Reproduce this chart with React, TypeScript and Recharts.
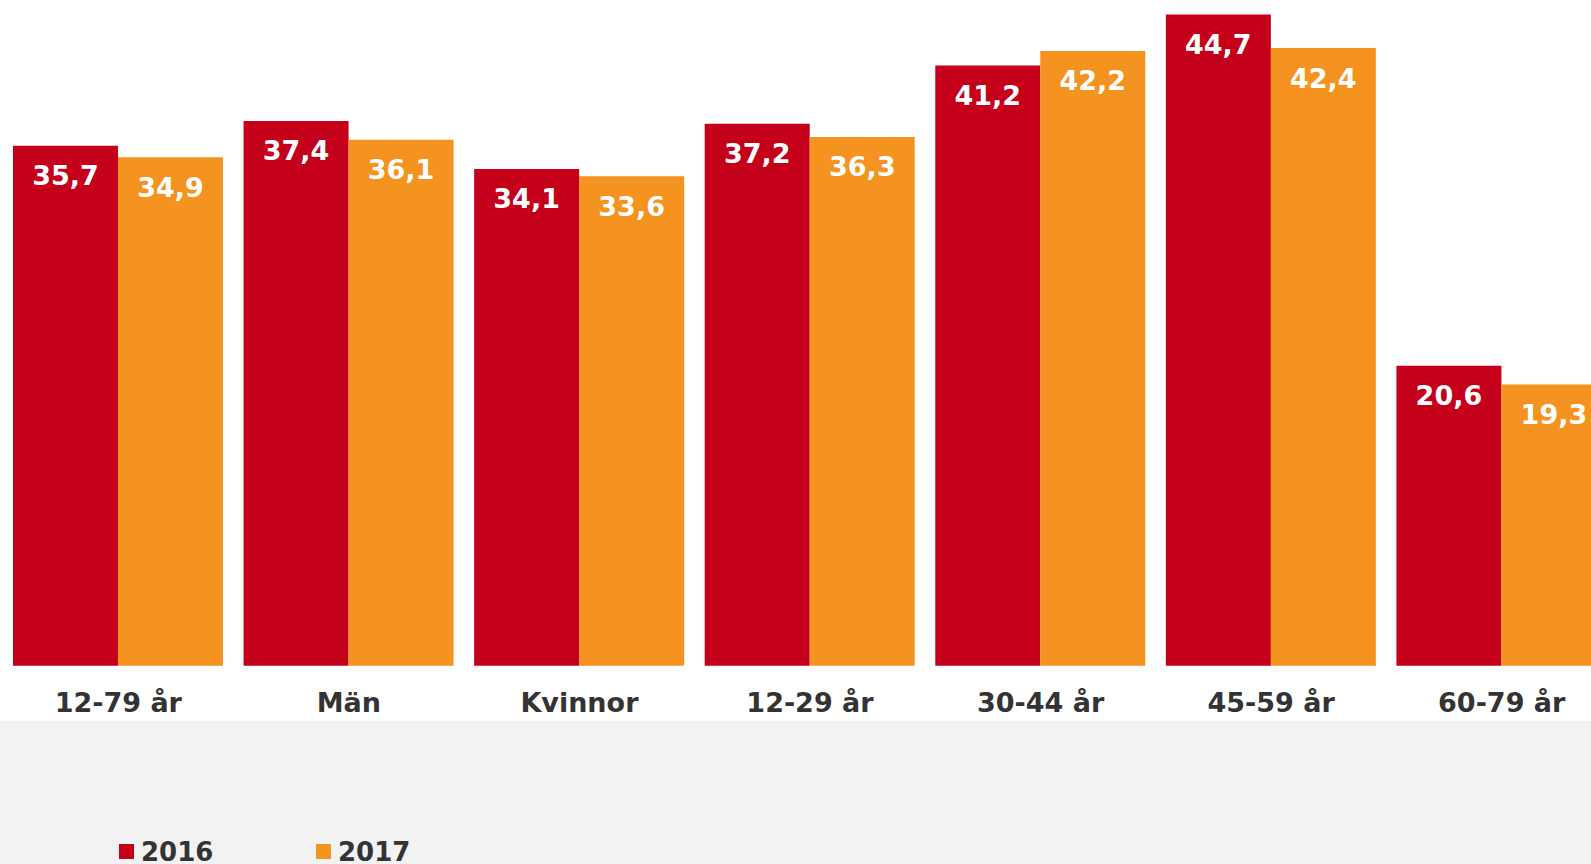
import React from 'react';
import { BarChart, Bar, XAxis, YAxis, LabelList, Legend } from 'recharts';

const categories = ['12-79 år', 'Män', 'Kvinnor', '12-29 år', '30-44 år', '45-59 år', '60-79 år'];
const values2016 = [35.7, 37.4, 34.1, 37.2, 41.2, 44.7, 20.6];
const values2017 = [34.9, 36.1, 33.6, 36.3, 42.2, 42.4, 19.3];

const RED = '#C4001A';
const ORANGE = '#F59320';
const FONT = '"DejaVu Sans", Verdana, sans-serif';

const data = categories.map((name, i) => ({
  name,
  y2016: values2016[i],
  y2017: values2017[i],
}));

// swedish decimal comma
const fmt = (v: number) => v.toFixed(1).replace('.', ',');

const ValueLabel = (props: any) => {
  const { x, y, width, value } = props;
  return (
    <text
      x={x + width / 2}
      y={y + 39.5}
      textAnchor="middle"
      fill="#ffffff"
      fontFamily={FONT}
      fontWeight="bold"
      fontSize={27}
    >
      {fmt(value)}
    </text>
  );
};

const CategoryTick = (props: any) => {
  const { x, y, payload } = props;
  return (
    <text
      x={x}
      y={y + 46}
      textAnchor="middle"
      fill="#333333"
      fontFamily={FONT}
      fontWeight="bold"
      fontSize={27}
    >
      {payload.value}
    </text>
  );
};

const LegendContent = () => (
  <svg width={600} height={28} style={{ display: 'block' }}>
    <rect x={119} y={8} width={15} height={15} fill={RED} />
    <text x={141} y={25} fill="#333333" fontFamily={FONT} fontWeight="bold" fontSize={26}>
      2016
    </text>
    <rect x={316} y={8} width={15} height={15} fill={ORANGE} />
    <text x={338} y={25} fill="#333333" fontFamily={FONT} fontWeight="bold" fontSize={26}>
      2017
    </text>
  </svg>
);

export default function App() {
  return (
    <div
      style={{
        position: 'absolute',
        left: 0,
        top: 0,
        width: 1591,
        height: 864,
        overflow: 'hidden',
        background: 'linear-gradient(#ffffff 0px, #ffffff 721px, #f2f2f2 721px, #f2f2f2 864px)',
      }}
    >
      <BarChart
        width={1617}
        height={864}
        data={data}
        margin={{ top: 10.2, right: 0, bottom: 143, left: 3 }}
        barGap={0}
      >
        <XAxis
          dataKey="name"
          axisLine={false}
          tickLine={false}
          tickSize={0}
          tickMargin={0}
          height={55.3}
          interval={0}
          tick={<CategoryTick />}
        />
        <YAxis hide domain={[0, 45]} />
        <Legend
          layout="horizontal"
          verticalAlign="middle"
          align="center"
          wrapperStyle={{ left: 0, top: 836, width: 600, height: 28 }}
          content={<LegendContent />}
        />
        <Bar dataKey="y2016" name="2016" fill={RED} barSize={105} isAnimationActive={false}>
          <LabelList dataKey="y2016" content={<ValueLabel />} />
        </Bar>
        <Bar dataKey="y2017" name="2017" fill={ORANGE} barSize={105} isAnimationActive={false}>
          <LabelList dataKey="y2017" content={<ValueLabel />} />
        </Bar>
      </BarChart>
    </div>
  );
}
